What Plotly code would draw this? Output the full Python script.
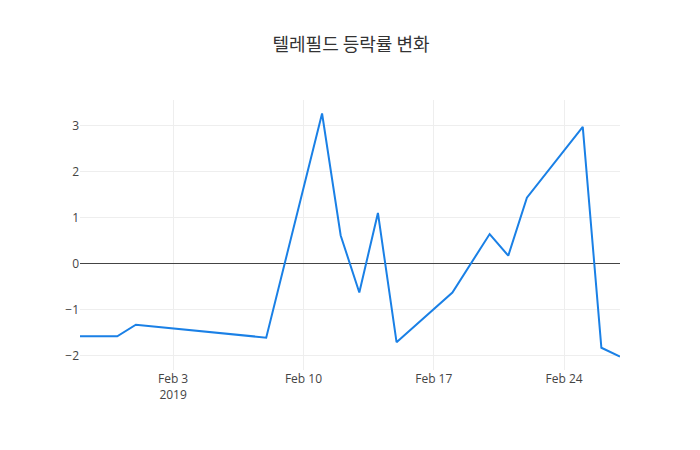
import plotly.graph_objects as go

# 텔레필드 일별 등락률 (%)
dates = [
    "2019-01-29", "2019-01-30", "2019-01-31", "2019-02-01", "2019-02-08",
    "2019-02-11", "2019-02-12", "2019-02-13", "2019-02-14", "2019-02-15",
    "2019-02-18", "2019-02-20", "2019-02-21", "2019-02-22", "2019-02-25",
    "2019-02-26", "2019-02-27",
]
change_pct = [
    -1.58, -1.58, -1.58, -1.33, -1.61,
    3.26, 0.61, -0.63, 1.10, -1.71,
    -0.63, 0.64, 0.17, 1.43, 2.97,
    -1.83, -2.02,
]

fig = go.Figure()
fig.add_trace(go.Scatter(
    x=dates, y=change_pct, mode="lines",
    line=dict(color="#1a80e6", width=2),
))

# page body has an 8px margin, so shrink the figure to keep the plot area in place
fig.update_layout(
    template="plotly_white",
    width=692, height=442,
    margin=dict(l=72, r=80, t=92, b=80),
    title=dict(text="텔레필드 등락률 변화", x=0.4957, xanchor="center",
               y=0.916, yanchor="middle",
               font=dict(family="Noto Sans CJK KR", size=18, color="#333")),
    showlegend=False,
    font=dict(family="Open Sans", color="#444"),
)
fig.update_xaxes(showgrid=True, gridcolor="#eee", zeroline=False, showline=False)
fig.update_yaxes(showgrid=True, gridcolor="#eee", zeroline=True,
                 zerolinecolor="#444", zerolinewidth=1, dtick=1)

fig.write_html("out.html")
